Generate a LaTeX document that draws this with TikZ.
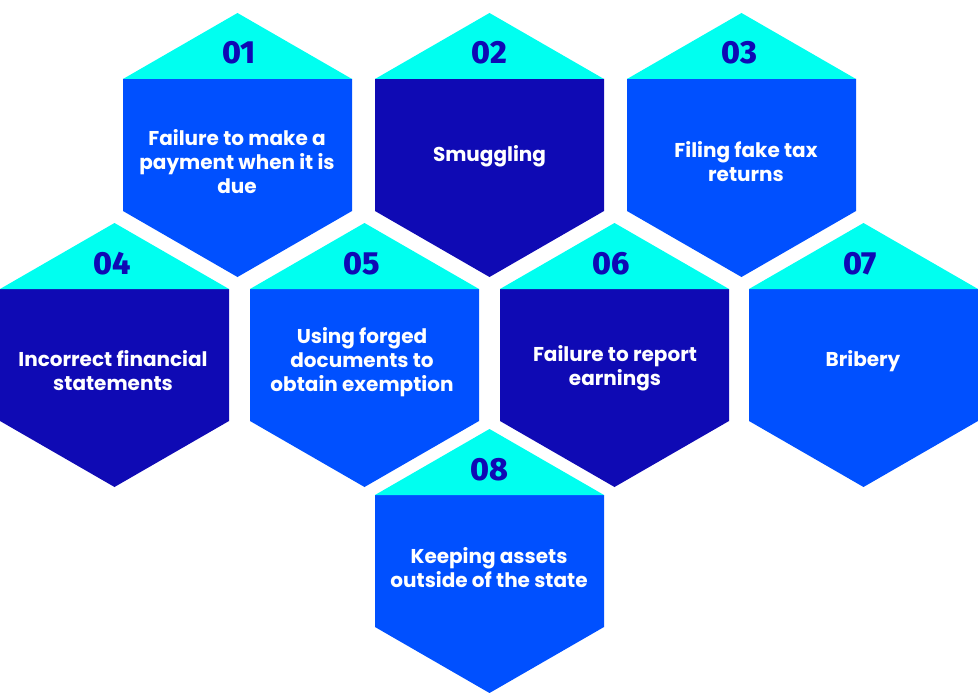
\documentclass[tikz,border=0pt]{standalone}
\usepackage{fontspec}
\setmainfont{Poppins}
\newfontfamily\numfont{Fira Sans}[BoldFont={Fira Sans ExtraBold}]
\definecolor{hexblue}{HTML}{0050FF}
\definecolor{hexnavy}{HTML}{0F0AB4}
\definecolor{hexcyan}{HTML}{00FFF0}
\tikzset{
  hexlabel/.style={text=white, align=center, font=\fontsize{20}{24}\selectfont\bfseries},
  hexnum/.style={text=hexnavy, font=\fontsize{32}{32}\selectfont\numfont\bfseries}
}
\begin{document}
\begin{tikzpicture}[x=1pt, y=-1pt]
    \useasboundingbox (0,0) rectangle (978,693);
    % Hexagons: centre x, apex y, body colour
    \foreach \cx/\ty/\col in {237.5/13/hexblue, 489.5/13/hexnavy, 741.5/13/hexblue,
        114.5/223/hexnavy, 364.5/223/hexblue, 614.5/223/hexnavy, 863.5/223/hexblue,
        489.5/429/hexblue} {
      \fill[\col] (\cx-114.5,\ty+66) -- (\cx+114.5,\ty+66) -- (\cx+114.5,\ty+198)
        -- (\cx,\ty+264) -- (\cx-114.5,\ty+198) -- cycle;
      \fill[hexcyan] (\cx-114.5,\ty+66) -- (\cx,\ty) -- (\cx+114.5,\ty+66) -- cycle;
    }
    % Numbers
    \node[hexnum] (n1) at (239,53) {01};
    \node[hexnum] (n2) at (489,53) {02};
    \node[hexnum] (n3) at (739.5,53) {03};
    \node[hexnum] (n4) at (112.5,264) {04};
    \node[hexnum] (n5) at (361.5,264) {05};
    \node[hexnum] (n6) at (611,264) {06};
    \node[hexnum] (n7) at (860,264) {07};
    \node[hexnum] (n8) at (489,470) {08};
    % Labels
    \node[hexlabel] (t1) at (237,162) {Failure to make a\\payment when it is\\due};
    \node[hexlabel] (t2) at (489.5,156.5) {Smuggling};
    \node[hexlabel] (t3) at (746,162) {Filing fake tax\\returns};
    \node[hexlabel] (t4) at (113,371) {Incorrect financial\\statements};
    \node[hexlabel] (t5) at (362,362.5) {Using forged\\documents to\\obtain exemption};
    \node[hexlabel] (t6) at (615,368.5) {Failure to report\\earnings};
    \node[hexlabel] (t7) at (863,361.5) {Bribery};
    \node[hexlabel] (t8) at (489,568) {Keeping assets\\outside of the state};
\end{tikzpicture}
\end{document}
